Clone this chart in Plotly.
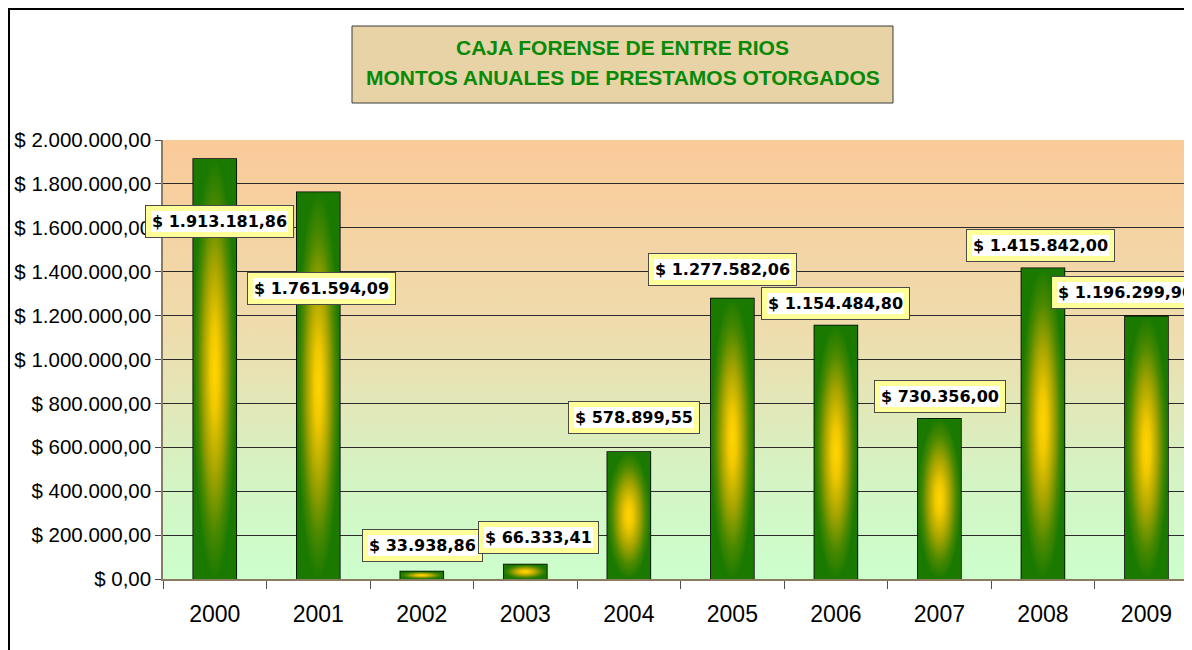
import base64
import plotly.graph_objects as go

# ---------------- data ----------------
years = ["2000", "2001", "2002", "2003", "2004", "2005", "2006", "2007", "2008", "2009"]
amounts = [1913181.86, 1761594.09, 33938.86, 66333.41, 578899.55,
           1277582.06, 1154484.80, 730356.00, 1415842.00, 1196299.90]
y_tick_values = [0, 200000, 400000, 600000, 800000, 1000000,
                 1200000, 1400000, 1600000, 1800000, 2000000]
title_line1 = "CAJA FORENSE DE ENTRE RIOS"
title_line2 = "MONTOS ANUALES DE PRESTAMOS OTORGADOS"

# label placement offsets (pixels, relative to bar top) - styling only
label_dx = [4.75, 2.75, 0.75, 13.25, 5.25, -9.75, 0, 0.25, -2.25, -20.75]
label_dy = [-62.6, -95.7, 26.5, 27, 34, 29, 21.6, 22, 22.7, 23.7]


def money(v):
    s = f"{v:,.2f}"
    s = s.replace(",", "#").replace(".", ",").replace("#", ".")
    return "$ " + s


y_tick_text = [money(v) for v in y_tick_values]
labels = [money(v) for v in amounts]

# ---------------- layout geometry ----------------
# the page body adds an 8px offset; geometry below is in window pixels
OFF = 8
W, H = 1192 - OFF, 650 - OFF
ML, MR, MT = 163 - OFF, 0, 140 - OFF
MB = H - (579 - OFF)
PW, PH = W - ML - MR, H - MT - MB
BAR_W = 0.415


def px_x(p):
    return (p - OFF - ML) / PW


def px_y(p):
    return (H - MB - (p - OFF)) / PH


fig = go.Figure()

# gradient fill of each bar (radial: yellow centre, green edges)
bar_scale = [[0.0, "#FFD600"], [0.2, "#F0C800"], [0.5, "#A6A400"],
             [0.78, "#4A8800"], [1.0, "#1A7A00"]]
for i, v in enumerate(amounts):
    fig.add_trace(go.Scatter(
        x=[i - BAR_W / 2, i + BAR_W / 2, i + BAR_W / 2, i - BAR_W / 2, i - BAR_W / 2],
        y=[0, 0, v, v, 0],
        mode="lines", fill="toself",
        fillgradient=dict(type="radial", colorscale=bar_scale),
        line=dict(width=0, color="rgba(0,0,0,0)"),
        hoverinfo="skip", showlegend=False,
    ))

# the bars (outline) drawn from the data
fig.add_trace(go.Bar(
    x=list(range(len(years))), y=amounts, width=BAR_W,
    marker=dict(color="rgba(0,0,0,0)", line=dict(color="#000000", width=1.6)),
    showlegend=False, hoverinfo="x+y",
))

# background gradient of plot area
bg_svg = ('<svg xmlns="http://www.w3.org/2000/svg" width="100" height="100" '
          'viewBox="0 0 100 100" preserveAspectRatio="none">'
          '<defs><linearGradient id="g" x1="0" y1="0" x2="0" y2="1">'
          '<stop offset="0" stop-color="#FBCA99"/>'
          '<stop offset="0.45" stop-color="#EEDDAE"/>'
          '<stop offset="0.78" stop-color="#D4F4C4"/>'
          '<stop offset="1" stop-color="#CCFFCC"/>'
          '</linearGradient></defs>'
          '<rect x="0" y="0" width="100" height="100" fill="url(#g)"/></svg>')
bg_src = "data:image/svg+xml;base64," + base64.b64encode(bg_svg.encode()).decode()

annotations = []
for i, (v, t) in enumerate(zip(amounts, labels)):
    common = dict(x=i, y=v, xref="x", yref="y", text=t, showarrow=False,
                  xanchor="center", yanchor="middle",
                  xshift=label_dx[i], yshift=label_dy[i],
                  font=dict(family="DejaVu Sans", size=16, color="#000000",
                            weight="bold"))
    annotations.append(dict(common, bgcolor="#FFFF99", bordercolor="#4A4A4A",
                            borderwidth=1, borderpad=6))
    annotations.append(dict(common, bgcolor="#FFFFFF", borderwidth=0, borderpad=1))

# title lines
for txt, ypx in ((title_line1, 47), (title_line2, 77)):
    annotations.append(dict(x=px_x(622.5), y=px_y(ypx), xref="paper", yref="paper",
                            text=f"<b>{txt}</b>", showarrow=False,
                            xanchor="center", yanchor="middle",
                            font=dict(family="Liberation Sans", size=21,
                                      color="#078A07")))

shapes = [
    # outer chart border (left and top visible)
    dict(type="rect", xref="paper", yref="paper",
         x0=px_x(9), x1=px_x(1300), y0=px_y(700), y1=px_y(9),
         line=dict(color="#000000", width=2), fillcolor="rgba(0,0,0,0)", layer="above"),
    # title box
    dict(type="rect", xref="paper", yref="paper",
         x0=px_x(352), x1=px_x(893), y0=px_y(103), y1=px_y(26),
         line=dict(color="#3A3A3A", width=1), fillcolor="#E8D3A6", layer="below"),
]

fig.update_layout(
    width=W, height=H,
    margin=dict(l=ML, r=MR, t=MT, b=MB, pad=0),
    paper_bgcolor="#FFFFFF", plot_bgcolor="#EEDDAE",
    template="none",
    showlegend=False,
    barmode="overlay",
    images=[dict(source=bg_src, xref="paper", yref="paper", x=0, y=1,
                 sizex=1, sizey=1, sizing="stretch", layer="below",
                 xanchor="left", yanchor="top")],
    annotations=annotations,
    shapes=shapes,
    font=dict(family="Liberation Sans", color="#000000"),
)

fig.update_xaxes(
    range=[-0.5, 9.44], tickmode="array", tickvals=list(range(len(years))),
    ticktext=years, ticks="", showgrid=False, zeroline=False,
    showline=True, linecolor="#8B7B61", linewidth=1.5,
    tickfont=dict(family="Liberation Sans", size=23, color="#000000"),
    ticklabelstandoff=14, automargin=False,
    minor=dict(tickmode="array", tickvals=[k - 0.5 for k in range(len(years) + 1)],
               ticks="outside", ticklen=8, tickcolor="#505050", tickwidth=1,
               showgrid=False),
)
fig.update_yaxes(
    range=[0, 2000000], tickmode="array", tickvals=y_tick_values,
    ticktext=y_tick_text, ticks="outside", ticklen=6, tickcolor="#404040",
    showgrid=True, gridcolor="#2A2A2A", gridwidth=1, zeroline=False,
    showline=True, linecolor="#8B7B61", linewidth=1.5,
    tickfont=dict(family="Liberation Sans", size=20.5, color="#000000"),
    automargin=False,
)

fig.write_html("out.html")
